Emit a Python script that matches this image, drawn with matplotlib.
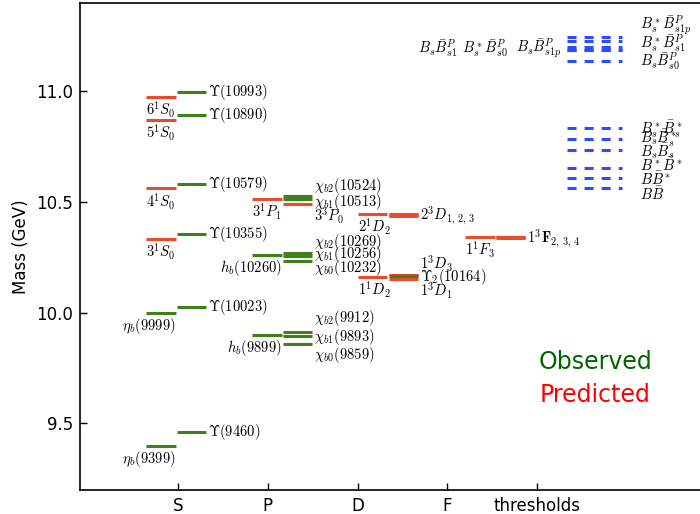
import matplotlib
matplotlib.use("Agg")
import matplotlib.pyplot as plt

plt.rcParams['mathtext.fontset'] = 'cm'
plt.rcParams['font.family'] = ['DejaVu Sans']
plt.rcParams['lines.scale_dashes'] = False

# ---- data (GeV) ----
# S wave
s_singlet_obs = [9.399, 9.999]
s_singlet_obs_lab = [r'$\eta_b(9399)$', r'$\eta_b(9999)$']
s_singlet_pred = [10.332, 10.559, 10.868, 10.973]
s_singlet_pred_lab = [r'$3^1S_0$', r'$4^1S_0$', r'$5^1S_0$', r'$6^1S_0$']
s_triplet_obs = [9.460, 10.023, 10.355, 10.579, 10.890, 10.993]
s_triplet_obs_lab = [r'$\Upsilon(9460)$', r'$\Upsilon(10023)$', r'$\Upsilon(10355)$',
                     r'$\Upsilon(10579)$', r'$\Upsilon(10890)$', r'$\Upsilon(10993)$']

# P wave
p_singlet_obs = [9.899, 10.260]
p_singlet_obs_lab = [r'$h_b(9899)$', r'$h_b(10260)$']
p_singlet_pred = [10.512]
p_singlet_pred_lab = [r'$3^1P_1$']
p_triplet_obs = [9.859, 9.893, 9.912, 10.232, 10.256, 10.269, 10.513, 10.524]
p_triplet_pred = [10.491]
p_triplet_lab = [r'$\chi_{b0}(9859)$', r'$\chi_{b1}(9893)$', r'$\chi_{b2}(9912)$',
                 r'$\chi_{b0}(10232)$', r'$\chi_{b1}(10256)$', r'$\chi_{b2}(10269)$',
                 r'$3^3P_0$', r'$\chi_{b1}(10513)$', r'$\chi_{b2}(10524)$']

# D wave
d_singlet_pred = [10.162, 10.444]
d_singlet_pred_lab = [r'$1^1D_2$', r'$2^1D_2$']
d_triplet_pred = [10.153, 10.169, 10.435, 10.441, 10.446]
d_triplet_obs = [10.164]
d_triplet_lab = [r'$1^3D_1$', r'$\Upsilon_2(10164)$', r'$1^3D_3$', r'$2^3D_{1,\,2,\,3}$']

# F wave
f_singlet_pred = [10.342]
f_singlet_pred_lab = [r'$1^1F_3$']
f_triplet_pred = [10.338, 10.339, 10.340]
f_triplet_lab = [r'$\mathbf{1^3F}_{2,\,3,\,4}$']

# open-bottom thresholds
thr_mass = [10.559, 10.604, 10.650, 10.734, 10.780, 10.830,
            11.134, 11.183, 11.185, 11.196, 11.222, 11.243]
thr_lab = [r'$B\bar{B}$', r'$B\bar{B}^*$', r'$B^*\bar{B}^*$',
           r'$B_s\bar{B}_s$', r'$B_s\bar{B}_s^*$', r'$B_s^*\bar{B}_s^*$',
           r'$B_s\bar{B}^P_{s0}$', r'$B_s\bar{B}^P_{s1}$', r'$B_s^*\bar{B}^P_{s0}$',
           r'$B_s\bar{B}^P_{s1p}$', r'$B_s^*\bar{B}^P_{s1}$', r'$B_s^*\bar{B}^P_{s1p}$']

columns = ['S', 'P', 'D', 'F', 'thresholds']

# ---- style ----
RED = '#ea4a2e'
GREEN = '#3f7f1c'
BLUE = '#2b4cff'
LW = 2.2
FS = 10.5

fig = plt.figure(figsize=(7, 5.14), dpi=100)
ax = fig.add_axes([80 / 700, 24 / 514, 620 / 700, 487 / 514])

col_left = [0.644, 1.83, 3.0, 4.2]
W = 0.33
GAP = 0.345


def level(x0, m, color, width=W):
    ax.plot([x0, x0 + width], [m, m], color=color, lw=LW, solid_capstyle='butt')


def below(x, m, txt, ha):
    ax.annotate(txt, (x, m), xytext=(0, -2), textcoords='offset points',
                ha=ha, va='top', fontsize=FS)


def right(x, m, txt, fs=FS):
    ax.annotate(txt, (x, m), xytext=(1.5, 0), textcoords='offset points',
                ha='left', va='center', fontsize=fs)


# S column
xl, xr = col_left[0], col_left[0] + GAP
for m, t in zip(s_singlet_obs, s_singlet_obs_lab):
    level(xl, m, GREEN)
    below(xl + W, m, t, 'right')
for m, t in zip(s_singlet_pred, s_singlet_pred_lab):
    level(xl, m, RED)
    below(xl, m, t, 'left')
for m, t in zip(s_triplet_obs, s_triplet_obs_lab):
    level(xr, m, GREEN, 0.322)
    right(xr + 0.322, m, t)

# P column
xl, xr = col_left[1], col_left[1] + GAP
for m, t in zip(p_singlet_obs, p_singlet_obs_lab):
    level(xl, m, GREEN)
    below(xl + W, m, t, 'right')
for m, t in zip(p_singlet_pred, p_singlet_pred_lab):
    level(xl, m, RED)
    below(xl, m, t, 'left')
for m in p_triplet_obs:
    level(xr, m, GREEN, 0.322)
for m in p_triplet_pred:
    level(xr, m, RED, 0.322)
p_lab_y = [9.808, 9.891, 9.973, 10.200, 10.264, 10.317, 10.434, 10.499, 10.571]
for y, t in zip(p_lab_y, p_triplet_lab):
    right(xr + 0.322, y, t)

# D column
xl, xr = col_left[2], col_left[2] + GAP
for m, t in zip(d_singlet_pred, d_singlet_pred_lab):
    level(xl, m, RED)
    below(xl, m, t, 'left')
for m in d_triplet_pred:
    level(xr, m, RED, 0.322)
for m in d_triplet_obs:
    level(xr, m, GREEN, 0.322)
d_lab_y = [10.099, 10.159, 10.219, 10.441]
for y, t in zip(d_lab_y, d_triplet_lab):
    right(xr + 0.322, y, t)

# F column
xl, xr = col_left[3], col_left[3] + GAP
for m, t in zip(f_singlet_pred, f_singlet_pred_lab):
    level(xl, m, RED)
    below(xl, m, t, 'left')
for m in f_triplet_pred:
    level(xr, m, RED, 0.322)
right(xr + 0.322, 10.332, f_triplet_lab[0])

# thresholds
tx0, tx1 = 5.333, 5.944
for m in thr_mass:
    ax.plot([tx0, tx1], [m, m], color=BLUE, lw=LW, dashes=(6.5, 5.8),
            solid_capstyle='butt', dash_capstyle='butt')
thr_lab_y = [10.532, 10.599, 10.662, 10.727, 10.784, 10.824,
             11.135, None, None, None, 11.216, 11.297]
for y, t in zip(thr_lab_y, thr_lab):
    if y is not None:
        ax.text(6.144, y, t, ha='left', va='center', fontsize=FS)
for x, t in zip([3.667, 4.167, 4.767], [thr_lab[7], thr_lab[8], thr_lab[9]]):
    ax.text(x, 11.19, t, ha='left', va='center', fontsize=FS)

# legend-like text
ax.text(0.831, 0.263, 'Observed', color='#006400', fontsize=17,
        ha='center', va='center', transform=ax.transAxes)
ax.text(0.831, 0.195, 'Predicted', color='red', fontsize=17,
        ha='center', va='center', transform=ax.transAxes)

# axes
ax.set_xlim(-0.089, 6.81)
ax.set_ylim(9.2, 11.395)
ax.set_xticks(range(1, 6))
ax.set_xticklabels(columns)
ax.set_yticks([9.5, 10.0, 10.5, 11.0])
ax.set_yticklabels(['9.5', '10.0', '10.5', '11.0'])
ax.tick_params(direction='in', length=5, width=1, labelsize=12, pad=5,
               top=False, right=False)
ax.spines['right'].set_visible(False)
for s in ['left', 'bottom', 'top']:
    ax.spines[s].set_linewidth(1.2)
ax.set_ylabel('Mass (GeV)', fontsize=12)
ax.yaxis.set_label_coords(-0.08, 0.5)

fig.savefig('out.png', dpi=100)
